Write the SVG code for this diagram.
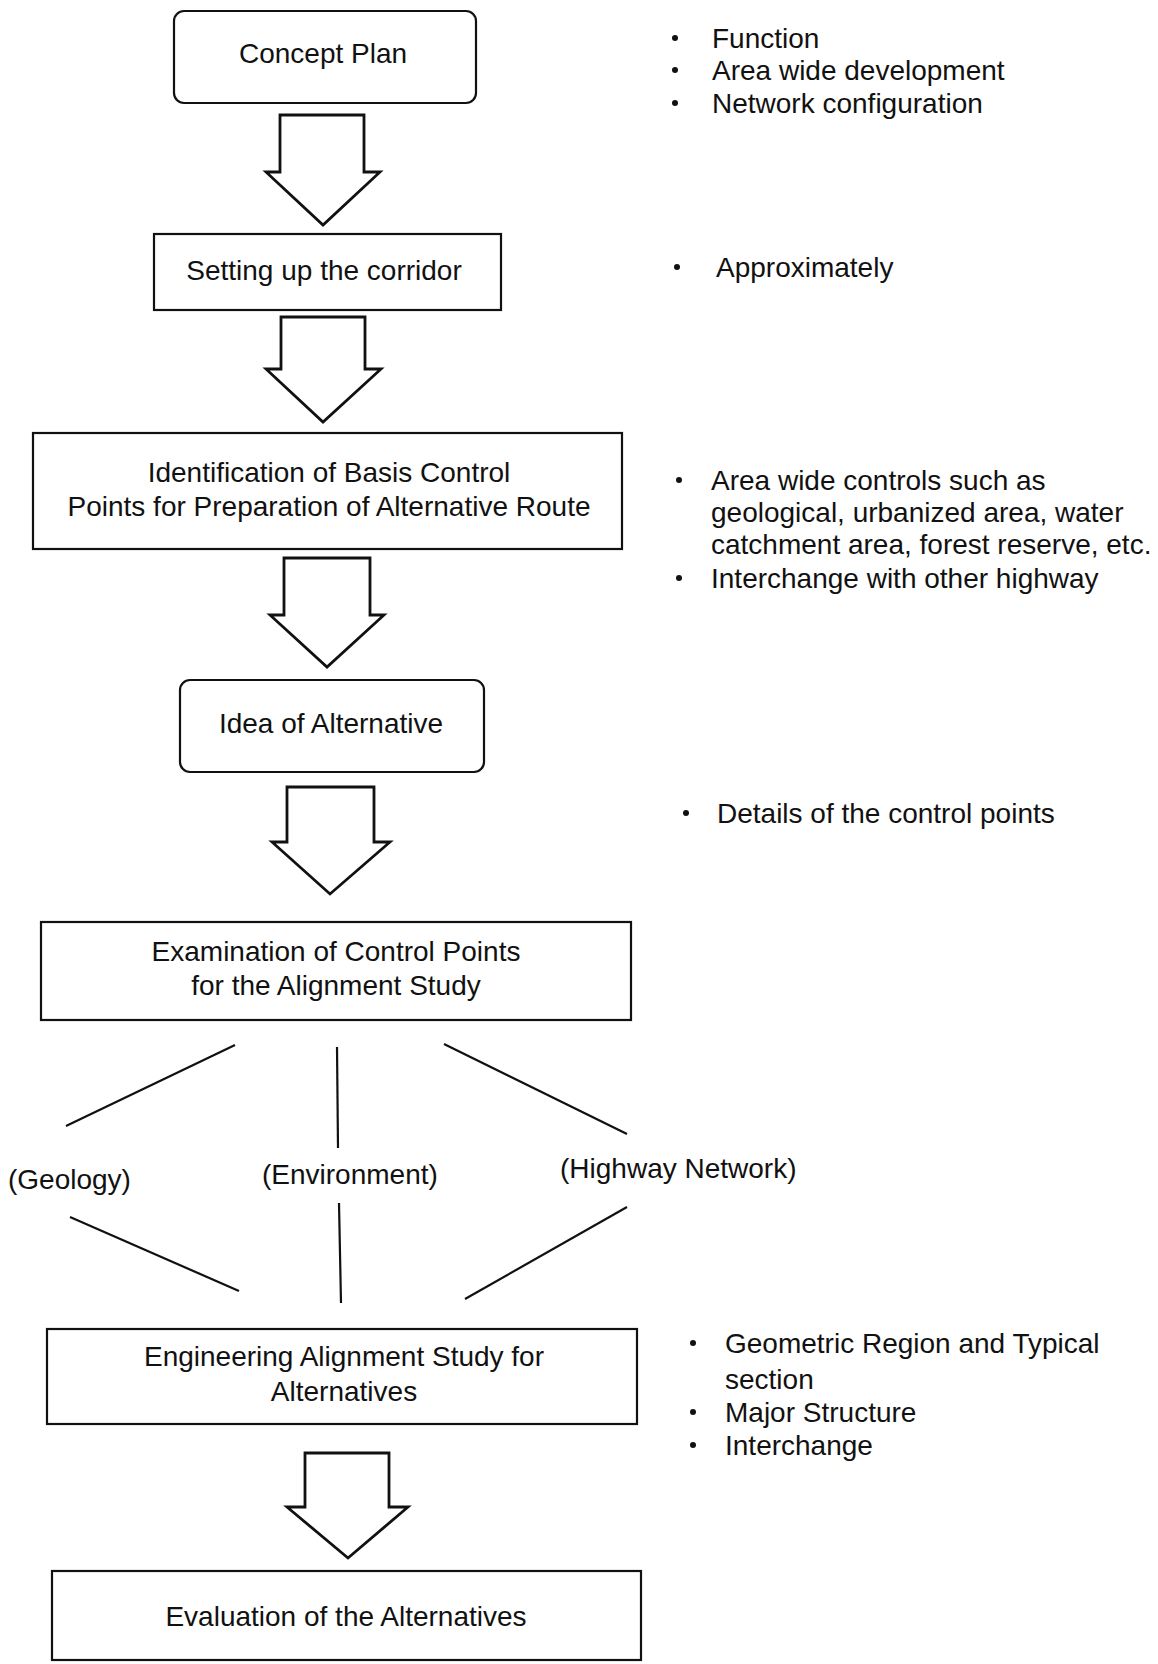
<svg xmlns="http://www.w3.org/2000/svg" width="1158" height="1664" viewBox="0 0 1158 1664">
<style>
.box{fill:#fff;stroke:#111;stroke-width:2.2}
.t{font-family:"Liberation Sans",Arial,sans-serif;font-size:28px;fill:#111;text-anchor:middle}
.n{font-family:"Liberation Sans",Arial,sans-serif;font-size:28px;fill:#111}
.arr{fill:#fff;stroke:#111;stroke-width:2.8;stroke-linejoin:miter}
.ln{stroke:#111;stroke-width:2.2;fill:none}
.dot{fill:#111}
</style>
<rect width="1158" height="1664" fill="#fff"/>
<g id="connectors">
<polygon class="arr" points="280,115 364,115 364,172 380,172 323,225 266,172 280,172"/>
<polygon class="arr" points="281,317 365,317 365,369 381,369 323,422 266,369 281,369"/>
<polygon class="arr" points="284,558 370,558 370,615 384,615 327,667 270,615 284,615"/>
<polygon class="arr" points="287,787 374,787 374,842 390,842 330,894 272,842 287,842"/>
<polygon class="arr" points="305,1453 389,1453 389,1507 408,1507 348,1558 287,1507 305,1507"/>
<line class="ln" x1="235" y1="1045" x2="66" y2="1126"/>
<line class="ln" x1="337" y1="1047" x2="338" y2="1148"/>
<line class="ln" x1="444" y1="1044" x2="627" y2="1134"/>
<line class="ln" x1="70" y1="1217" x2="239" y2="1291"/>
<line class="ln" x1="339" y1="1203" x2="341" y2="1303"/>
<line class="ln" x1="627" y1="1207" x2="465" y2="1299"/>
</g>
<g id="concept-plan">
<rect class="box" x="174" y="11" width="302" height="92" rx="10"/>
<text class="t" x="323" y="63">Concept Plan</text>
</g>
<g id="setting-corridor">
<rect class="box" x="154" y="234" width="347" height="76"/>
<text class="t" x="324" y="280">Setting up the corridor</text>
</g>
<g id="identification">
<rect class="box" x="33" y="433" width="589" height="116"/>
<text class="t" x="329" y="482">Identification of Basis Control</text>
<text class="t" x="329" y="516">Points for Preparation of Alternative Route</text>
</g>
<g id="idea-alternative">
<rect class="box" x="180" y="680" width="304" height="92" rx="10"/>
<text class="t" x="331" y="733">Idea of Alternative</text>
</g>
<g id="examination">
<rect class="box" x="41" y="922" width="590" height="98"/>
<text class="t" x="336" y="961">Examination of Control Points</text>
<text class="t" x="336" y="995">for the Alignment Study</text>
</g>
<g id="geology"><text class="n" x="8" y="1189">(Geology)</text></g>
<g id="environment"><text class="n" x="262" y="1184">(Environment)</text></g>
<g id="highway-network"><text class="n" x="560" y="1178">(Highway Network)</text></g>
<g id="engineering">
<rect class="box" x="47" y="1329" width="590" height="95"/>
<text class="t" x="344" y="1366">Engineering Alignment Study for</text>
<text class="t" x="344" y="1401">Alternatives</text>
</g>
<g id="evaluation">
<rect class="box" x="52" y="1571" width="589" height="89"/>
<text class="t" x="346" y="1626">Evaluation of the Alternatives</text>
</g>
<g id="notes-concept">
<circle class="dot" cx="675" cy="38" r="3"/>
<circle class="dot" cx="675" cy="70" r="3"/>
<circle class="dot" cx="675" cy="103" r="3"/>
<text class="n" x="712" y="48">Function</text>
<text class="n" x="712" y="80">Area wide development</text>
<text class="n" x="712" y="113">Network configuration</text>
</g>
<g id="notes-corridor">
<circle class="dot" cx="677" cy="267" r="3"/>
<text class="n" x="716" y="277">Approximately</text>
</g>
<g id="notes-identification">
<circle class="dot" cx="679" cy="480" r="3"/>
<circle class="dot" cx="679" cy="578" r="3"/>
<text class="n" x="711" y="490">Area wide controls such as</text>
<text class="n" x="711" y="522">geological, urbanized area, water</text>
<text class="n" x="711" y="554">catchment area, forest reserve, etc.</text>
<text class="n" x="711" y="588">Interchange with other highway</text>
</g>
<g id="notes-idea">
<circle class="dot" cx="686" cy="813" r="3"/>
<text class="n" x="717" y="823">Details of the control points</text>
</g>
<g id="notes-engineering">
<circle class="dot" cx="693" cy="1343" r="3"/>
<circle class="dot" cx="693" cy="1412" r="3"/>
<circle class="dot" cx="693" cy="1445" r="3"/>
<text class="n" x="725" y="1353">Geometric Region and Typical</text>
<text class="n" x="725" y="1389">section</text>
<text class="n" x="725" y="1422">Major Structure</text>
<text class="n" x="725" y="1455">Interchange</text>
</g>
</svg>
